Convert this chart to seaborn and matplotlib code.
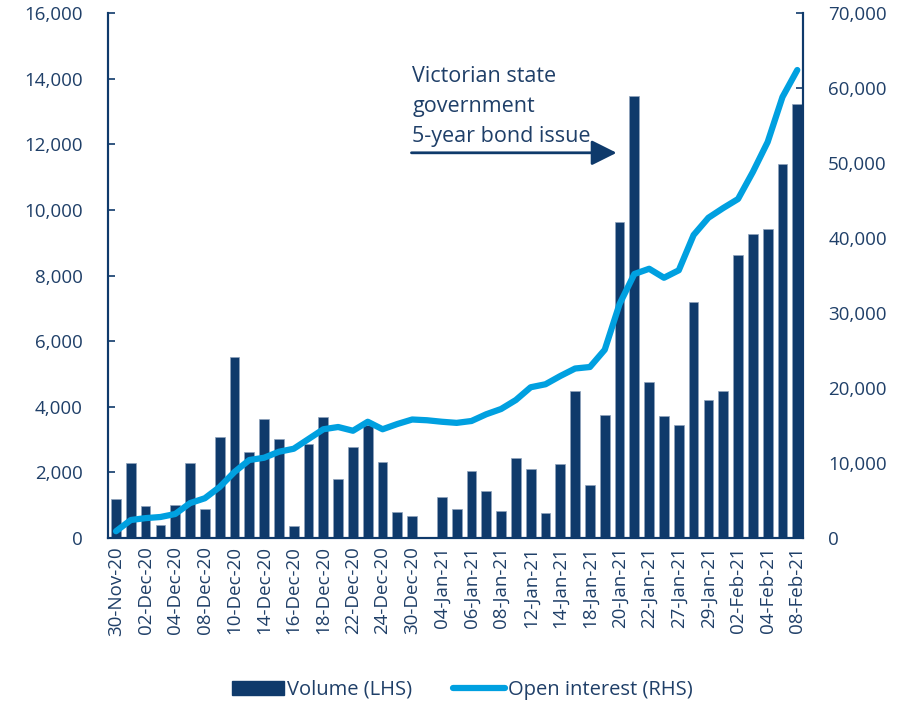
import numpy as np
import pandas as pd
import matplotlib
matplotlib.use("Agg")
import matplotlib.pyplot as plt
import seaborn as sns
from matplotlib.patches import Patch
from matplotlib.lines import Line2D
from matplotlib.ticker import FuncFormatter

# trading days, 30-Nov-20 to 08-Feb-21
dates = ["30-Nov-20", "01-Dec-20", "02-Dec-20", "03-Dec-20", "04-Dec-20", "07-Dec-20",
         "08-Dec-20", "09-Dec-20", "10-Dec-20", "11-Dec-20", "14-Dec-20", "15-Dec-20",
         "16-Dec-20", "17-Dec-20", "18-Dec-20", "21-Dec-20", "22-Dec-20", "23-Dec-20",
         "24-Dec-20", "29-Dec-20", "30-Dec-20", "31-Dec-20", "04-Jan-21", "05-Jan-21",
         "06-Jan-21", "07-Jan-21", "08-Jan-21", "11-Jan-21", "12-Jan-21", "13-Jan-21",
         "14-Jan-21", "15-Jan-21", "18-Jan-21", "19-Jan-21", "20-Jan-21", "21-Jan-21",
         "22-Jan-21", "25-Jan-21", "27-Jan-21", "28-Jan-21", "29-Jan-21", "01-Feb-21",
         "02-Feb-21", "03-Feb-21", "04-Feb-21", "05-Feb-21", "08-Feb-21"]

volume = [1180, 2300, 980, 400, 1000, 2300, 880, 3080, 5520, 2630, 3640, 3030,
          380, 2860, 3680, 1790, 2760, 3440, 2330, 800, 680, 40, 1260, 890,
          2050, 1420, 810, 2450, 2110, 770, 2260, 4470, 1600, 3760, 9640, 13480,
          4740, 3720, 3450, 7180, 4200, 4480, 8630, 9270, 9420, 11400, 13230]

open_interest = [900, 2400, 2650, 2800, 3200, 4650, 5300, 6800, 8800, 10400, 10700, 11500,
                 11900, 13200, 14500, 14800, 14300, 15500, 14500, 15200, 15800, 15700, 15500, 15350,
                 15600, 16500, 17200, 18400, 20100, 20500, 21600, 22600, 22800, 25100, 31200, 35200,
                 35900, 34700, 35700, 40400, 42700, 44000, 45200, 48800, 52800, 58800, 62400]

navy = "#0f3a6b"
light = "#00a0e0"
txt = "#1f3f68"

sns.set_style("white")
plt.rcParams["font.family"] = ["Open Sans", "DejaVu Sans"]

df = pd.DataFrame({"date": dates, "volume": volume, "oi": open_interest})
df["pos"] = np.arange(len(df))

fig = plt.figure(figsize=(9.19, 7.04), dpi=100)
ax = fig.add_axes([0.1175, 0.2358, 0.7565, 0.7457])

sns.barplot(data=df, x="date", y="volume", color=navy, saturation=1, width=0.66,
            edgecolor="#8fa3bc", linewidth=0.5, ax=ax)

ax2 = ax.twinx()
sns.lineplot(data=df, x="pos", y="oi", color=light, linewidth=4.5, ax=ax2,
             solid_capstyle="round")

ax.set_xlim(-0.54, 46.4)
ax.set_ylim(0, 16000)
ax2.set_ylim(0, 70000)
ax.set_yticks(np.arange(0, 16001, 2000))
ax2.set_yticks(np.arange(0, 70001, 10000))
fmt = FuncFormatter(lambda v, p: f"{int(v):,}")
ax.yaxis.set_major_formatter(fmt)
ax2.yaxis.set_major_formatter(fmt)

ax.set_xticks(df["pos"][::2])
ax.set_xticklabels(df["date"][::2], rotation=90)
ax.set_xlabel("")
ax.set_ylabel("")
ax2.set_xlabel("")
ax2.set_ylabel("")

for a in (ax, ax2):
    a.spines["top"].set_visible(False)
    for s in ["left", "right", "bottom"]:
        a.spines[s].set_color(navy)
        a.spines[s].set_linewidth(1.5)
    a.tick_params(colors=txt, labelsize=13.5)

ax.tick_params(axis="y", direction="in", length=5, color=navy, width=1.2, pad=18)
ax.tick_params(axis="x", length=0, pad=6)
ax2.tick_params(axis="y", direction="in", length=5, color=navy, width=1.2, pad=18)

# annotation
ax.text(20.0, 14380, "Victorian state\ngovernment\n5-year bond issue", color=txt,
        fontsize=15.5, va="top", ha="left", linespacing=1.55)
ax.annotate("", xy=(33.8, 11740), xytext=(19.95, 11740),
            arrowprops=dict(arrowstyle="-|>,head_length=0.7,head_width=0.35", color=navy,
                            lw=2, mutation_scale=22, shrinkA=0, shrinkB=0))

handles = [Patch(facecolor=navy, edgecolor=navy),
           Line2D([0], [0], color=light, lw=4.5, solid_capstyle="round")]
fig.legend(handles, ["Volume (LHS)", "Open interest (RHS)"], loc="center",
           bbox_to_anchor=(0.503, 0.02), ncol=2, frameon=False, fontsize=14.5,
           labelcolor=txt, handlelength=2.6, handletextpad=0.15, columnspacing=2.0)

fig.savefig("out.png", dpi=100)
